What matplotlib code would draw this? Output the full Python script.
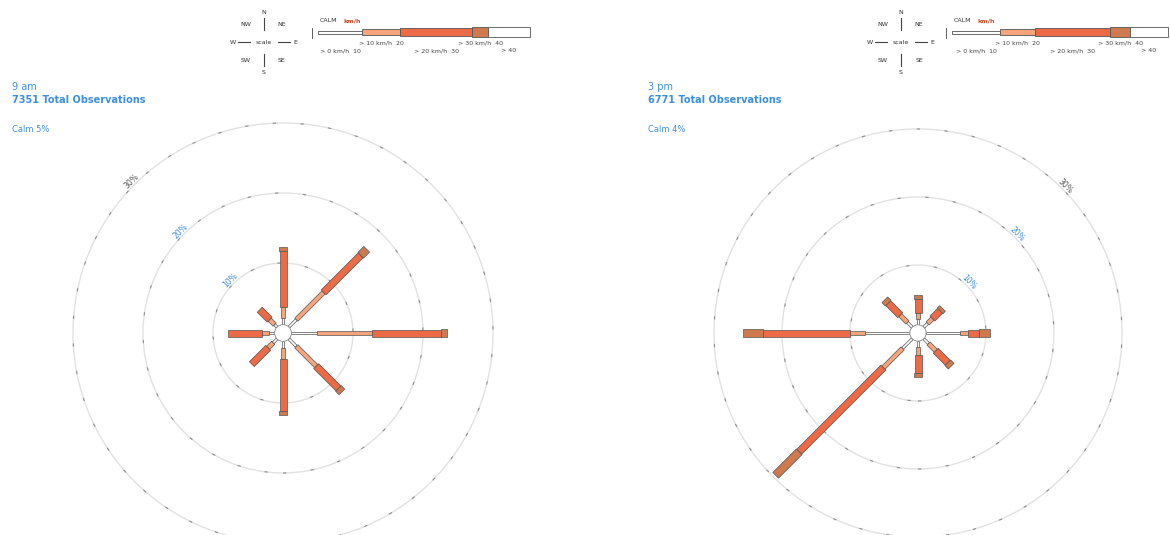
import numpy as np
import matplotlib.pyplot as plt
from matplotlib.patches import Polygon, Circle, Rectangle

# wind directions, compass bearings
directions = ["N", "NE", "E", "SE", "S", "SW", "W", "NW"]
bearings = [0, 45, 90, 135, 180, 225, 270, 315]

speed_classes = ["> 0 km/h  10", "> 10 km/h  20", "> 20 km/h  30", "> 30 km/h  40", "> 40"]

# percentage of observations per direction, split by speed class
am_pct = [
    [1.0, 1.5, 8.0, 0.6, 0.0],   # N
    [1.5, 5.5, 7.5, 1.2, 0.0],   # NE
    [3.6, 7.9, 9.9, 0.8, 0.0],   # E
    [1.5, 4.0, 4.5, 0.7, 0.0],   # SE
    [1.0, 1.5, 7.5, 0.5, 0.0],   # S
    [0.8, 1.0, 3.3, 0.0, 0.0],   # SW
    [0.8, 1.0, 4.9, 0.0, 0.0],   # W
    [0.5, 1.0, 2.0, 0.0, 0.0],   # NW
]
pm_pct = [
    [0.8, 1.0, 2.0, 0.6, 0.0],
    [0.8, 1.0, 1.6, 0.5, 0.0],
    [5.0, 1.2, 1.5, 1.7, 0.0],
    [1.0, 1.5, 2.5, 0.7, 0.0],
    [0.8, 1.2, 2.7, 0.6, 0.0],
    [2.0, 4.0, 17.5, 4.9, 0.0],
    [6.6, 2.2, 12.8, 2.9, 0.0],
    [1.0, 1.5, 2.5, 0.7, 0.0],
]
titles = ["9 am", "3 pm"]
totals = [7351, 6771]
calm_pct = [5, 4]
rings = [10, 20, 30]

# styling
blue = "#3d8fe0"
seg_colors = ["#ffffff", "#f5a47c", "#ec6a45", "#cf7a4e", "#b86a44"]
seg_widths = [2.5, 4.5, 7.0, 8.0, 9.0]  # px
calm_r = 1.2

W, H = 1170, 535
fig = plt.figure(figsize=(W / 100, H / 100), dpi=100)


def px_axes(x0, y0, w, h):
    return fig.add_axes([x0 / W, 1 - (y0 + h) / H, w / W, h / H])


def draw_rose(cx, cy, scale, data, label_side):
    half = 215
    ax = px_axes(cx - half, cy - half, 2 * half, 2 * half)
    ax.set_xlim(-half / scale, half / scale)
    ax.set_ylim(-half / scale, half / scale)
    ax.set_aspect("equal")
    ax.axis("off")

    for r in rings:
        ax.add_patch(Circle((0, 0), r, fill=False, ec="#e2e2e2", lw=1.0))
        ax.add_patch(Circle((0, 0), r, fill=False, ec="#444444", lw=0.8,
                            ls=(0, (3, 22)), alpha=0.55))
        ang = np.deg2rad(315 if label_side == "left" else 45)
        rr = r + 0.6
        ax.text(rr * np.sin(ang), rr * np.cos(ang), f"{r}%",
                color=blue if r < 30 else "#555555", fontsize=5.5,
                rotation=45 if label_side == "left" else -45,
                ha="center", va="center")

    for b, classes in zip(bearings, data):
        t = np.deg2rad(b)
        u = np.array([np.sin(t), np.cos(t)])
        p = np.array([np.cos(t), -np.sin(t)])
        r0 = calm_r
        for k, v in enumerate(classes):
            if v <= 0:
                continue
            hw = seg_widths[k] / scale / 2
            r1 = r0 + v
            pts = [u * r0 + p * hw, u * r1 + p * hw, u * r1 - p * hw, u * r0 - p * hw]
            ax.add_patch(Polygon(pts, closed=True, fc=seg_colors[k],
                                 ec="#555555", lw=0.5, zorder=3))
            r0 = r1
    ax.add_patch(Circle((0, 0), calm_r, fc="white", ec="#888888", lw=0.6, zorder=4))
    return ax


def draw_legend(x0, bar_x0, bar_bounds):
    ax = px_axes(x0, 0, W - x0, 75)
    ax.set_xlim(x0, W)
    ax.set_ylim(75, 0)
    ax.axis("off")
    # compass
    cx, cy = x0 + 28, 42
    ax.plot([cx, cx], [18, 30], color="#444", lw=0.8)
    ax.plot([cx, cx], [54, 66], color="#444", lw=0.8)
    ax.plot([cx - 26, cx - 14], [cy, cy], color="#444", lw=0.8)
    ax.plot([cx + 14, cx + 26], [cy, cy], color="#444", lw=0.8)
    for lab, dx, dy in [("N", 0, -30), ("S", 0, 30), ("W", -31, 0), ("E", 31, 0),
                        ("NW", -18, -17), ("NE", 18, -17), ("SW", -18, 18), ("SE", 18, 18)]:
        ax.text(cx + dx, cy + dy, lab, fontsize=4.5, ha="center", va="center", color="#333")
    ax.text(cx, cy, "scale", fontsize=4.5, ha="center", va="center", color="#333")

    # speed bar
    ax.text(bar_x0 + 2, 20, "CALM", fontsize=4.5, color="#333", va="center")
    ax.text(bar_x0 + 25, 21, "km/h", fontsize=4.5, color="#d0502a", va="center",
            fontweight="bold")
    ax.plot([bar_x0 - 6, bar_x0 - 6], [28, 38], color="#444", lw=0.6)
    for k in range(len(speed_classes)):
        a, b = bar_bounds[k], bar_bounds[k + 1]
        h = seg_widths[k] * 1.2
        ax.add_patch(Rectangle((a, 32 - h / 2), b - a, h, fc=seg_colors[k] if k < 4 else "white",
                               ec="#555555", lw=0.6))
        ty = 51 if k % 2 == 0 else 43
        ax.text((a + b) / 2, ty, speed_classes[k], fontsize=4.5, ha="center",
                va="center", color="#444")


draw_rose(283, 333, 7.0, am_pct, "left")
draw_rose(918, 333, 6.8, pm_pct, "right")

draw_legend(236, 318, [318, 362, 400, 472, 488, 530])
draw_legend(873, 952, [952, 1000, 1035, 1110, 1130, 1168])

for x, title, tot, calm in zip([12, 648], titles, totals, calm_pct):
    fig.text(x / W, 1 - 87 / H, title, color=blue, fontsize=7, va="center")
    fig.text(x / W, 1 - 100 / H, f"{tot} Total Observations", color=blue,
             fontsize=7, va="center", fontweight="bold")
    fig.text(x / W, 1 - 130 / H, f"Calm {calm}%", color=blue, fontsize=6, va="center")

fig.savefig("out.png", dpi=100, facecolor="white")
